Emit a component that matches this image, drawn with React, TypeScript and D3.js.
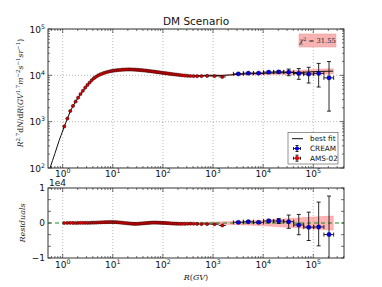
import React from 'react';
import * as d3 from 'd3';

// AMS-02 rigidity bin edges (GV)
const amsEdges = [1.00,1.16,1.33,1.51,1.71,1.92,2.15,2.40,2.67,2.97,3.29,3.64,4.02,4.43,4.88,5.37,5.90,6.47,7.09,7.76,8.48,9.26,10.1,11.0,12.0,13.0,14.1,15.3,16.6,18.0,19.5,21.1,22.8,24.7,26.7,28.8,31.1,33.5,36.1,38.9,41.9,45.1,48.5,52.2,56.1,60.3,64.8,69.7,74.9,80.5,86.5,93.0,100,108,116,125,135,147,160,175,192,211,233,259,291,330,379,441,525,660,880,1300,1800];
// R^2.7 flux
const amsFlux = [790,1170,1700,2190,2720,3300,3950,4650,5420,6200,7000,7900,8700,9350,9950,10450,10900,11300,11650,11950,12250,12450,12650,12800,12950,13050,13150,13250,13300,13350,13380,13380,13350,13320,13250,13180,13100,13000,12900,12800,12700,12580,12470,12350,12230,12100,11980,11850,11720,11600,11480,11350,11230,11110,11000,10880,10750,10630,10500,10380,10250,10130,10000,9880,9760,9680,9620,9600,9620,9700,9650,9250];
const amsResid = [0,20,40,20,0,30,50,60,50,40,60,80,100,120,150,180,200,230,250,260,270,280,260,240,200,150,100,50,0,-50,-100,-150,-200,-230,-250,-240,-220,-180,-140,-100,-60,-20,20,60,90,110,120,110,100,80,60,40,20,0,-30,-60,-100,-140,-170,-200,-220,-230,-240,-230,-210,-200,-220,-250,-300,-300,-350,-700];

const creamR = [3200,5070,8100,12900,20400,32300,51300,81000,128000,206000];
const creamEdges = [2550,4030,6400,10200,16200,25700,40700,64500,102000,163000,255000];
const creamFlux = [10770,11150,11150,11720,11900,11720,11000,10620,11000,8830];
const creamResid = [190,370,190,560,560,370,-560,-1200,-1130,-3300];
const creamErrLo = [250,250,300,500,700,1900,2800,3800,5400,7140];
const creamErrHi = [250,250,300,500,700,1900,3000,4300,7100,11000];

// best-fit curve knots
const fitR = [0.5,0.56,0.7,0.85,1.0,1.077,1.242,1.417,1.608,1.812,2.032,2.272,2.532,2.816,3.126,3.461,3.826,4.65,5.63,6.77,7.42,8.11,9.67,11.5,13.5,15.9,18.7,21.9,25.7,29.9,34.8,40.4,46.8,54.1,62.5,72.3,83.4,96.4,112,130,153,183,222,275,354,481,589,762,1069,1530,3200,5070,8100,12900,20400,32300,51300,81000,128000,250000];
const fitFlux = [68,100,205,390,630,790,1150,1660,2170,2720,3270,3900,4590,5370,6160,6940,7820,9230,10270,11070,11400,11690,12170,12560,12900,13200,13400,13530,13550,13420,13180,12900,12600,12290,11990,11740,11520,11310,11110,10940,10770,10580,10360,10110,9880,9850,9920,10000,10000,9950,10580,10780,10960,11160,11340,11400,11560,11820,12130,12300];

// uncertainty band half-width
const bandR = [1,10,100,1000,3000,10000,30000,100000,250000];
const bandHalf = [30,60,120,250,450,800,1200,1700,2000];

const xTickExp = [0,1,2,3,4,5];
const yTopTickExp = [2,3,4,5];
const residTickLabels = ['\u22121','0','1'];
const residTickVals = [-1e4,0,1e4];
const chi2Text = '31.55';

export default function App() {
  const W = 382, H = 287;
  const L = 48, Rt = 344;
  const T1 = 29, B1 = 168, T2 = 188, B2 = 258;
  const x = d3.scaleLog().domain([0.51, 4.1e5]).range([L, Rt]);
  const yT = d3.scaleLog().domain([100, 1e5]).range([B1, T1]);
  const yB = d3.scaleLinear().domain([-1e4, 1e4]).range([B2, T2]);

  const amsR = amsFlux.map((_, i) => Math.sqrt(amsEdges[i] * amsEdges[i + 1]));

  const halfAt = (r: number) => {
    const lr = Math.log10(r);
    for (let i = 0; i < bandR.length - 1; i++) {
      const a = Math.log10(bandR[i]), b = Math.log10(bandR[i + 1]);
      if (lr >= a && lr <= b) return bandHalf[i] + (bandHalf[i + 1] - bandHalf[i]) * (lr - a) / (b - a);
    }
    return lr < 0 ? bandHalf[0] : bandHalf[bandHalf.length - 1];
  };
  const bandIdx = fitR.map((r, i) => i).filter(i => fitR[i] >= 1 && fitR[i] <= 250000);

  const fitLine = d3.line<number>().x(i => x(fitR[i])).y(i => yT(fitFlux[i])).curve(d3.curveMonotoneX)(fitR.map((_, i) => i)) || '';
  const bandTop = d3.area<number>().x(i => x(fitR[i]))
    .y0(i => yT(fitFlux[i] - 0.8 * halfAt(fitR[i]))).y1(i => yT(fitFlux[i] + 0.8 * halfAt(fitR[i]))).curve(d3.curveMonotoneX)(bandIdx) || '';
  const bandBot = d3.area<number>().x(i => x(fitR[i]))
    .y0(i => yB(-halfAt(fitR[i]))).y1(i => yB(halfAt(fitR[i]))).curve(d3.curveMonotoneX)(bandIdx) || '';

  const minorX: number[] = [];
  for (let d = -1; d <= 5; d++) for (let k = 2; k <= 9; k++) {
    const v = k * Math.pow(10, d);
    if (v > 0.51 && v < 4.1e5) minorX.push(v);
  }
  const minorYT: number[] = [];
  for (let d = 2; d <= 4; d++) for (let k = 2; k <= 9; k++) minorYT.push(k * Math.pow(10, d));
  const residTicks = d3.range(-3, 4).map(k => k * 1e4 / 3);

  const font = 'DejaVu Sans, sans-serif';
  const serif = 'DejaVu Serif, serif';
  const gridC = '#9a9a9a';
  const frameC = '#333';

  const xTickMarks = (top: number, bot: number) => (
    <g stroke={frameC} strokeWidth={0.7}>
      {xTickExp.map(e => {
        const px = x(Math.pow(10, e));
        return <g key={'M' + e}><line x1={px} x2={px} y1={bot} y2={bot - 4} /><line x1={px} x2={px} y1={top} y2={top + 4} /></g>;
      })}
      {minorX.map((v, i) => {
        const px = x(v);
        return <g key={'m' + i}><line x1={px} x2={px} y1={bot} y2={bot - 2} /><line x1={px} x2={px} y1={top} y2={top + 2} /></g>;
      })}
    </g>
  );

  const xLabels = (base: number) => xTickExp.map(e => (
    <text key={e} x={x(Math.pow(10, e))} y={base} textAnchor="middle" fontSize={9} fontFamily={font} fill="#111">
      10<tspan dy={-4} fontSize={6.3}>{e}</tspan>
    </text>
  ));

  const errbar = (cx: number, cy: number, x0: number, x1: number, y0: number, y1: number, key: string, cap = 2) => (
    <g key={key} stroke="#111" strokeWidth={0.9}>
      <line x1={x0} x2={x1} y1={cy} y2={cy} />
      <line x1={cx} x2={cx} y1={y0} y2={y1} />
      {cap > 0 && <line x1={cx - cap} x2={cx + cap} y1={y0} y2={y0} />}
      {cap > 0 && <line x1={cx - cap} x2={cx + cap} y1={y1} y2={y1} />}
      {cap > 0 && <line x1={x0} x2={x0} y1={cy - cap} y2={cy + cap} />}
      {cap > 0 && <line x1={x1} x2={x1} y1={cy - cap} y2={cy + cap} />}
    </g>
  );

  return (
    <svg width={W} height={H} style={{ position: 'absolute', left: 0, top: 0, background: '#fff' }}>
      <defs>
        <clipPath id="cTop"><rect x={L} y={T1} width={Rt - L} height={B1 - T1} /></clipPath>
        <clipPath id="cBot"><rect x={L} y={T2} width={Rt - L} height={B2 - T2} /></clipPath>
      </defs>
      <rect x={0} y={0} width={W} height={H} fill="#fff" />
      <text x={(L + Rt) / 2} y={25} textAnchor="middle" fontSize={10.5} fontFamily={font} fill="#111">DM Scenario</text>

      {/* ---------- top panel ---------- */}
      <g clipPath="url(#cTop)">
        <g stroke={gridC} strokeWidth={0.7} strokeDasharray="1,2">
          {xTickExp.map(e => <line key={e} x1={x(Math.pow(10, e))} x2={x(Math.pow(10, e))} y1={T1} y2={B1} />)}
          {yTopTickExp.map(e => <line key={e} x1={L} x2={Rt} y1={yT(Math.pow(10, e))} y2={yT(Math.pow(10, e))} />)}
        </g>
        <path d={bandTop} fill="#ff5c5c" fillOpacity={0.45} stroke="#ff8080" strokeOpacity={0.5} strokeWidth={0.8} />
        <path d={fitLine} fill="none" stroke="#111" strokeWidth={1} />
        {amsR.map((r, i) => errbar(x(r), yT(amsFlux[i]), x(amsEdges[i]), x(amsEdges[i + 1]), yT(amsFlux[i]), yT(amsFlux[i]), 'ae' + i, 0))}
        {amsR.map((r, i) => <circle key={'a' + i} cx={x(r)} cy={yT(amsFlux[i])} r={1.6} fill="#e00000" stroke="#200" strokeWidth={0.5} />)}
        {creamR.map((r, i) => errbar(x(r), yT(creamFlux[i]), x(creamEdges[i]), x(creamEdges[i + 1]),
          yT(creamFlux[i] + creamErrHi[i]), yT(creamFlux[i] - creamErrLo[i]), 'ce' + i))}
        {creamR.map((r, i) => <circle key={'c' + i} cx={x(r)} cy={yT(creamFlux[i])} r={2.2} fill="#0000ee" stroke="#001" strokeWidth={0.3} />)}
      </g>
      {xTickMarks(T1, B1)}
      <g stroke={frameC} strokeWidth={0.7}>
        {yTopTickExp.map(e => {
          const py = yT(Math.pow(10, e));
          return <g key={e}><line x1={L} x2={L + 4} y1={py} y2={py} /><line x1={Rt} x2={Rt - 4} y1={py} y2={py} /></g>;
        })}
        {minorYT.map((v, i) => {
          const py = yT(v);
          return <g key={'m' + i}><line x1={L} x2={L + 2} y1={py} y2={py} /><line x1={Rt} x2={Rt - 2} y1={py} y2={py} /></g>;
        })}
      </g>
      <rect x={L} y={T1} width={Rt - L} height={B1 - T1} fill="none" stroke={frameC} strokeWidth={1} />
      {yTopTickExp.map(e => (
        <text key={e} x={45} y={yT(Math.pow(10, e)) + 3.5} textAnchor="end" fontSize={9} fontFamily={font} fill="#111">
          10<tspan dy={-4} fontSize={6.3}>{e}</tspan>
        </text>
      ))}
      {xLabels(176.5)}
      <text transform={`translate(23,93) rotate(-90)`} textAnchor="middle" fontSize={7.6} fontFamily={serif} fill="#222">
        <tspan fontStyle="italic">R</tspan><tspan dy={-3} fontSize={5.5}>2.7</tspan><tspan dy={3}>d</tspan><tspan fontStyle="italic">N</tspan>/d<tspan fontStyle="italic">R</tspan>(<tspan fontStyle="italic">GV</tspan><tspan dy={-3} fontSize={5.5}>1.7</tspan><tspan dy={3} fontStyle="italic">m</tspan><tspan dy={-3} fontSize={5.5}>−2</tspan><tspan dy={3} fontStyle="italic">s</tspan><tspan dy={-3} fontSize={5.5}>−1</tspan><tspan dy={3} fontStyle="italic">sr</tspan><tspan dy={-3} fontSize={5.5}>−1</tspan><tspan dy={3}>)</tspan>
      </text>

      {/* chi2 box */}
      <rect x={299} y={34} width={37} height={13} fill="#f7b2b2" stroke="#eaa0a0" strokeWidth={0.6} />
      <text x={317.5} y={43.3} textAnchor="middle" fontSize={6.8} fontFamily={serif} fill="#222">
        <tspan fontStyle="italic">χ</tspan><tspan dy={-2.5} fontSize={4.8}>2</tspan><tspan dy={2.5}> = {chi2Text}</tspan>
      </text>

      {/* legend */}
      <rect x={288} y={132.5} width={50} height={31.5} fill="#fff" stroke="#666" strokeWidth={0.7} />
      <line x1={292} x2={303} y1={138.7} y2={138.7} stroke="#111" strokeWidth={1} />
      <text x={310} y={141.3} fontSize={7.3} fontFamily={font} fill="#111">best fit</text>
      {errbar(297, 148.5, 293.5, 300.5, 145.5, 151.5, 'lc', 1.5)}
      <circle cx={297} cy={148.5} r={2.1} fill="#0000ee" />
      <text x={310} y={151.1} fontSize={7.3} fontFamily={font} fill="#111">CREAM</text>
      {errbar(297, 158.2, 293.5, 300.5, 155.2, 161.2, 'la', 1.5)}
      <circle cx={297} cy={158.2} r={2.1} fill="#ee0000" />
      <text x={310} y={160.8} fontSize={7.3} fontFamily={font} fill="#111">AMS-02</text>

      {/* ---------- bottom panel ---------- */}
      <g clipPath="url(#cBot)">
        <g stroke={gridC} strokeWidth={0.7} strokeDasharray="1,2">
          {xTickExp.map(e => <line key={e} x1={x(Math.pow(10, e))} x2={x(Math.pow(10, e))} y1={T2} y2={B2} />)}
        </g>
        <path d={bandBot} fill="#ff5c5c" fillOpacity={0.45} stroke="#ff8080" strokeOpacity={0.5} strokeWidth={0.8} />
        <line x1={L} x2={Rt} y1={yB(0)} y2={yB(0)} stroke="#1a8a1a" strokeWidth={1.2} strokeDasharray="4,3" />
        {amsR.map((r, i) => errbar(x(r), yB(amsResid[i]), x(amsEdges[i]), x(amsEdges[i + 1]), yB(amsResid[i]), yB(amsResid[i]), 'be' + i, 0))}
        {amsR.map((r, i) => <circle key={'b' + i} cx={x(r)} cy={yB(amsResid[i])} r={1.6} fill="#e00000" stroke="#200" strokeWidth={0.5} />)}
        {creamR.map((r, i) => errbar(x(r), yB(creamResid[i]), x(creamEdges[i]), x(creamEdges[i + 1]),
          yB(creamResid[i] + creamErrHi[i]), yB(creamResid[i] - creamErrLo[i]), 'de' + i))}
        {creamR.map((r, i) => <circle key={'d' + i} cx={x(r)} cy={yB(creamResid[i])} r={2.2} fill="#0000ee" stroke="#001" strokeWidth={0.3} />)}
      </g>
      {xTickMarks(T2, B2)}
      <g stroke={frameC} strokeWidth={0.7}>
        {residTicks.map((v, i) => {
          const py = yB(v);
          return <g key={i}><line x1={L} x2={L + 3} y1={py} y2={py} /><line x1={Rt} x2={Rt - 3} y1={py} y2={py} /></g>;
        })}
      </g>
      <rect x={L} y={T2} width={Rt - L} height={B2 - T2} fill="none" stroke={frameC} strokeWidth={1} />
      {residTickVals.map((v, i) => (
        <text key={i} x={45} y={yB(v) + 3.3} textAnchor="end" fontSize={9} fontFamily={font} fill="#111">{residTickLabels[i]}</text>
      ))}
      <text x={49} y={185.5} fontSize={9} fontFamily={font} fill="#111">1e4</text>
      {xLabels(268)}
      <text transform={`translate(25,223) rotate(-90)`} textAnchor="middle" fontSize={8} fontFamily={serif} fontStyle="italic" fill="#222">Residuals</text>
      <text x={(L + Rt) / 2} y={280} textAnchor="middle" fontSize={8} fontFamily={serif} fill="#222">
        <tspan fontStyle="italic">R</tspan>(<tspan fontStyle="italic">GV</tspan>)
      </text>
    </svg>
  );
}
